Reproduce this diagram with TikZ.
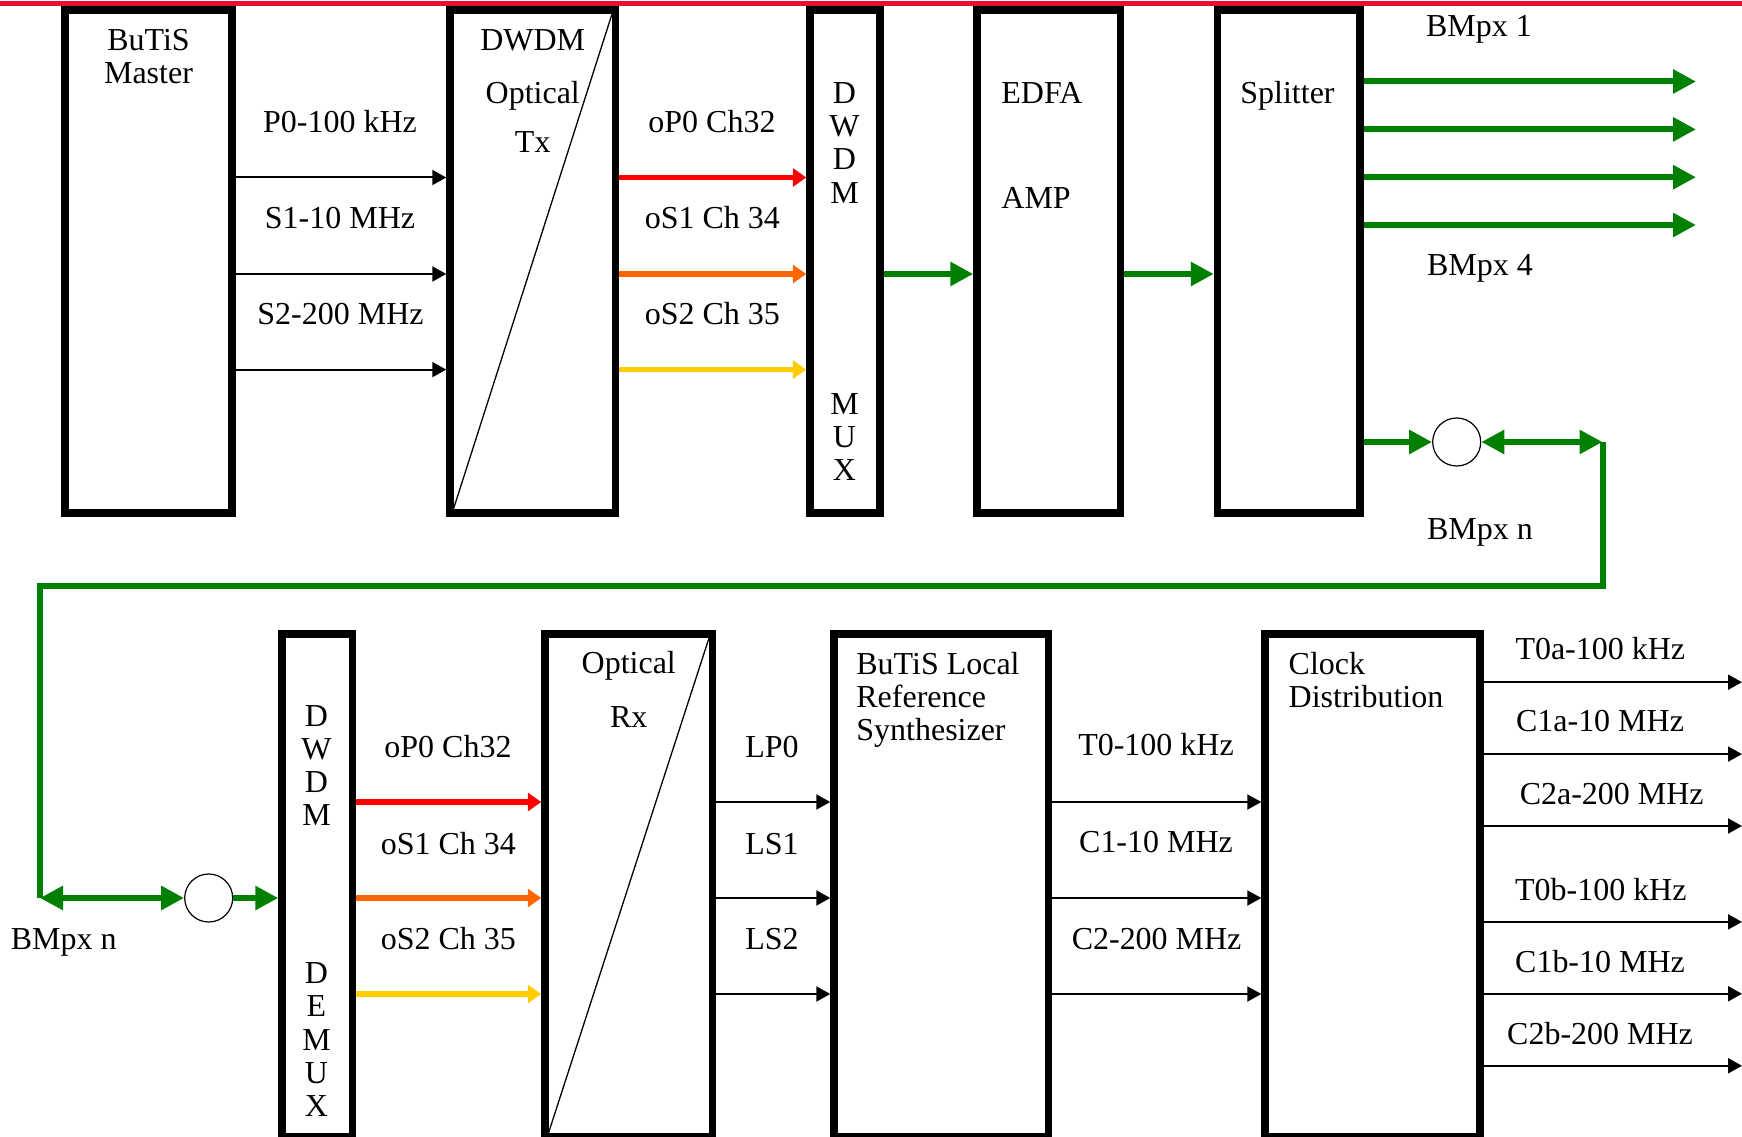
\documentclass[tikz,border=0pt]{standalone}
\usepackage{fontspec}
\setmainfont{Liberation Serif}
\usepackage{xcolor}
\definecolor{railred}{HTML}{E8102E}
\definecolor{chred}{HTML}{FF0000}
\definecolor{chorange}{HTML}{FF6600}
\definecolor{chyellow}{HTML}{FFCC00}
\definecolor{fibgreen}{HTML}{008000}
\usepackage{tikz}
\usetikzlibrary{arrows.meta, calc}
\newcommand{\lblfont}{\fontsize{9.1}{9.45}\selectfont}
\tikzset{
  blk/.style ={rectangle, draw=black, line width=0.75mm, fill=white, inner sep=0pt, minimum height=50.3mm},
  blkt/.style={inner sep=0pt, align=center, font=\lblfont, anchor=north},
  slbl/.style={inner sep=0pt, font=\lblfont, anchor=base},
  sarr/.style={-{Triangle[length=1.4mm, width=1.5mm]}, line width=0.2mm, color=black},
  oarr/.style={-{Triangle[length=1.35mm, width=1.8mm]}, line width=0.55mm},
  farr/.style={-{Triangle[length=2.3mm, width=2.3mm]}, line width=0.6mm, color=fibgreen},
  farrb/.style={{Triangle[length=2.3mm, width=2.3mm]}-{Triangle[length=2.3mm, width=2.3mm]}, line width=0.6mm, color=fibgreen},
  fline/.style={line width=0.6mm, color=fibgreen},
  junc/.style={circle, draw=black, line width=0.12mm, minimum size=4.8mm, inner sep=0pt, fill=white},
  diag/.style={line width=0.13mm, color=black},
}

\begin{document}
\begin{tikzpicture}[x=0.1mm, y=-0.1mm]
  \useasboundingbox (0,0) rectangle (1742,1137);
  % transmitter chain
  \node[blk, minimum width=16.7mm] (master) at (148.5,261.5) {};
  \node[blk, minimum width=16.55mm] (tx) at (532.75,261.5) {};
  \node[blk, minimum width=7mm] (mux) at (845,261.5) {};
  \node[blk, minimum width=14.35mm] (edfa) at (1048.75,261.5) {};
  \node[blk, minimum width=14.25mm] (split) at (1288.75,261.5) {};
  \draw[diag] ([shift={(0.7mm,0.7mm)}]tx.south west) -- ([shift={(-0.7mm,-0.7mm)}]tx.north east);
  \node[blkt] (mastert) at (148.5,28.2) {BuTiS\\Master};
  \node[blkt] (txt) at (532.75,28.4) {DWDM\\[5.8pt]Optical\\[4.4pt]Tx};
  \node[blkt] (muxa) at (844.5,81.9) {D\\W\\D\\M};
  \node[blkt] (muxb) at (844.5,392.4) {M\\U\\X};
  \node[blkt, anchor=north west, align=left] (edfat) at (1000.7,82) {EDFA\\[20.4pt]AMP};
  \node[slbl] (splitt) at (1287.5,103.3) {Splitter};

  \coordinate (ta) at (0,177.5);
  \coordinate (tb) at (0,274);
  \coordinate (tc) at (0,369.6);
  \draw[sarr] (master.east |- ta) -- (tx.west |- ta);
  \draw[sarr] (master.east |- tb) -- (tx.west |- tb);
  \draw[sarr] (master.east |- tc) -- (tx.west |- tc);
  \node[slbl] (p0) at (340,132.7) {P0-100 kHz};
  \node[slbl] (s1) at (340,228.7) {S1-10 MHz};
  \node[slbl] (s2) at (340.5,324.3) {S2-200 MHz};
  \draw[oarr, chred] (tx.east |- ta) -- (mux.west |- ta);
  \draw[oarr, chorange] (tx.east |- tb) -- (mux.west |- tb);
  \draw[oarr, chyellow] (tx.east |- tc) -- (mux.west |- tc);
  \node[slbl] (op0) at (712,132.7) {oP0 Ch32};
  \node[slbl] (os1) at (712.4,228.7) {oS1 Ch 34};
  \node[slbl] (os2) at (712.4,324.3) {oS2 Ch 35};
  \draw[farr] (mux.east |- tb) -- (edfa.west |- tb);
  \draw[farr] (edfa.east |- tb) -- (split.west |- tb);

  % splitter outputs
  \coordinate (so1) at (1696,81.5);
  \coordinate (so2) at (1696,129.4);
  \coordinate (so3) at (1696,177.2);
  \coordinate (so4) at (1696,225);
  \draw[farr] (split.east |- so1) -- (so1);
  \draw[farr] (split.east |- so2) -- (so2);
  \draw[farr] (split.east |- so3) -- (so3);
  \draw[farr] (split.east |- so4) -- (so4);
  \node[slbl] (bm1) at (1479,36.4) {BMpx 1};
  \node[slbl] (bm4) at (1480,275.5) {BMpx 4};
  \node[slbl] (bmn) at (1480,539.6) {BMpx n};

  % fibre link to the receiver
  \node[junc] (jn1) at (1456.7,442) {};
  \node[junc] (jn2) at (208.7,898) {};
  \coordinate (k1) at (1602.5,442);
  \coordinate (h1) at (1602.5,585.7);
  \coordinate (k2) at (40,898);
  \draw[farr] (split.east |- jn1) -- (jn1.west);
  \draw[farrb] (jn1.east) -- (k1);
  \draw[fline] (k1) -- (h1) -| (k2);
  \draw[farrb] (k2) -- (jn2.west);
  \node[slbl] (bmnr) at (63.7,949.4) {BMpx n};

  % receiver chain
  \node[blk, minimum width=7.05mm] (demux) at (317.25,885.5) {};
  \node[blk, minimum width=16.75mm] (rx) at (628.75,885.5) {};
  \node[blk, minimum width=21.45mm] (synth) at (941.25,885.5) {};
  \node[blk, minimum width=21.5mm] (clock) at (1372.5,885.5) {};
  \draw[diag] ([shift={(0.7mm,0.7mm)}]rx.south west) -- ([shift={(-0.7mm,-0.7mm)}]rx.north east);
  \draw[farr] (jn2.east) -- (demux.west |- jn2);
  \node[blkt] (demuxa) at (316.5,704.4) {D\\W\\D\\M};
  \node[blkt] (demuxb) at (316.5,962) {D\\E\\M\\U\\X};
  \node[blkt] (rxt) at (628.75,651) {Optical\\[5.7pt]Rx};
  \node[blkt, anchor=north west, align=left] (syntht) at (855.7,651.5) {BuTiS Local\\Reference\\Synthesizer};
  \node[blkt, anchor=north west, align=left] (clockt) at (1288,651.5) {Clock\\Distribution};

  \coordinate (ba) at (0,802);
  \coordinate (bb) at (0,898);
  \coordinate (bc) at (0,994);
  \draw[oarr, chred] (demux.east |- ba) -- (rx.west |- ba);
  \draw[oarr, chorange] (demux.east |- bb) -- (rx.west |- bb);
  \draw[oarr, chyellow] (demux.east |- bc) -- (rx.west |- bc);
  \node[slbl] (rop0) at (448,757) {oP0 Ch32};
  \node[slbl] (ros1) at (448.3,854.4) {oS1 Ch 34};
  \node[slbl] (ros2) at (448.3,949.4) {oS2 Ch 35};
  \draw[sarr] (rx.east |- ba) -- (synth.west |- ba);
  \draw[sarr] (rx.east |- bb) -- (synth.west |- bb);
  \draw[sarr] (rx.east |- bc) -- (synth.west |- bc);
  \node[slbl] (lp0) at (772,757) {LP0};
  \node[slbl] (ls1) at (772,854.4) {LS1};
  \node[slbl] (ls2) at (772,949.4) {LS2};
  \draw[sarr] (synth.east |- ba) -- (clock.west |- ba);
  \draw[sarr] (synth.east |- bb) -- (clock.west |- bb);
  \draw[sarr] (synth.east |- bc) -- (clock.west |- bc);
  \node[slbl] (t0) at (1156,755.8) {T0-100 kHz};
  \node[slbl] (c1) at (1156,852.7) {C1-10 MHz};
  \node[slbl] (c2) at (1156.6,949.3) {C2-200 MHz};

  % clock outputs
  \coordinate (co1) at (1742,682.2);
  \coordinate (co2) at (1742,754.1);
  \coordinate (co3) at (1742,826);
  \coordinate (co4) at (1742,921.9);
  \coordinate (co5) at (1742,993.8);
  \coordinate (co6) at (1742,1065.8);
  \draw[sarr] (clock.east |- co1) -- (co1);
  \draw[sarr] (clock.east |- co2) -- (co2);
  \draw[sarr] (clock.east |- co3) -- (co3);
  \draw[sarr] (clock.east |- co4) -- (co4);
  \draw[sarr] (clock.east |- co5) -- (co5);
  \draw[sarr] (clock.east |- co6) -- (co6);
  \node[slbl] (t0a) at (1600.3,659.9) {T0a-100 kHz};
  \node[slbl] (c1a) at (1600,731.8) {C1a-10 MHz};
  \node[slbl] (c2a) at (1611.7,804.8) {C2a-200 MHz};
  \node[slbl] (t0b) at (1600.8,900.7) {T0b-100 kHz};
  \node[slbl] (c1b) at (1600,972.6) {C1b-10 MHz};
  \node[slbl] (c2b) at (1600,1044.5) {C2b-200 MHz};

  % rail along the top edge
  \draw[line width=0.5mm, railred] (0,4) -- (1742,4);
\end{tikzpicture}
\end{document}
